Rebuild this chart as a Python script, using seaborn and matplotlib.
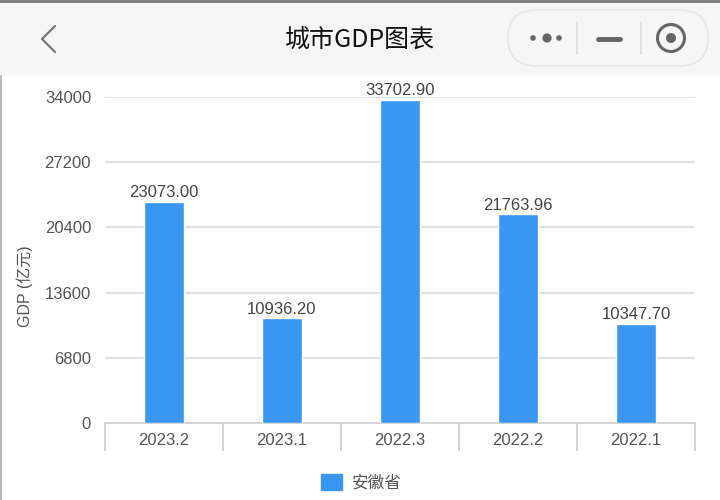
import seaborn as sns
import matplotlib.pyplot as plt
import pandas as pd
from matplotlib.patches import Rectangle, FancyBboxPatch, Circle, Patch


# data
periods = ['2023.2', '2023.1', '2022.3', '2022.2', '2022.1']
gdp_values = [23073.00, 10936.20, 33702.90, 21763.96, 10347.70]
series_name = '安徽省'
y_ticks = [0, 6800, 13600, 20400, 27200, 34000]

bar_color = '#3996f3'
text_color = '#555555'
grid_color = '#e2e2e2'

df = pd.DataFrame({'period': periods, 'gdp': gdp_values})


#----------------------------------------------------------------------------------------------------
sns.set_theme(style='white')
plt.rcParams['font.family'] = ['Liberation Sans', 'Noto Sans CJK SC']

fig = plt.figure(figsize=(7.2, 5), dpi=100)
fig.patch.set_facecolor('white')

ax = fig.add_axes([105/720, 1-423/500, 590/720, 326/500])

sns.barplot(x='period', y='gdp', data=df, color=bar_color, width=0.34,
            saturation=1, ax=ax, zorder=3)

ax.set_ylim(0, 34000)
ax.set_xlim(-0.5, len(periods)-0.5)
ax.set_yticks(y_ticks)
ax.set_yticklabels([str(t) for t in y_ticks])
ax.yaxis.grid(True, color=grid_color, linewidth=1.5, zorder=0)
ax.tick_params(axis='y', length=0, pad=10, labelsize=12, labelcolor=text_color)

# category box under the axis
ax.set_xticks([i-0.5 for i in range(len(periods)+1)])
ax.set_xticklabels([])
ax.set_xticks(range(len(periods)), minor=True)
ax.set_xticklabels(periods, minor=True)
ax.tick_params(axis='x', which='major', length=20, width=1.2, color='#cccccc', direction='out')
ax.tick_params(axis='x', which='minor', length=0, pad=7, labelsize=12, labelcolor=text_color)
ax.xaxis.set_tick_params(bottom=True)

for side in ['top', 'right', 'left']:
    ax.spines[side].set_visible(False)
ax.spines['bottom'].set_color('#cccccc')
ax.spines['bottom'].set_linewidth(1.2)

ax.set_xlabel('')
ax.set_ylabel('GDP (亿元)', color=text_color, fontsize=11.5)
ax.yaxis.set_label_coords(-0.122, 0.42)

for container in ax.containers:
    ax.bar_label(container, labels=[f'{v:.2f}' for v in gdp_values],
                 padding=1, fontsize=12, color='#444444')

ax.legend(handles=[Patch(color=bar_color, label=series_name)],
          loc='center', bbox_to_anchor=(0.435, -0.181), frameon=False,
          fontsize=12, handlelength=1.25, handleheight=1.1,
          labelcolor=text_color, handletextpad=0.6)


# header bar, drawn on a pixel-space overlay
#----------------------------------------------------------------------------------------------------
ov = fig.add_axes([0, 0, 1, 1], zorder=-1)
ov.set_xlim(0, 720)
ov.set_ylim(500, 0)
ov.axis('off')
ov.patch.set_alpha(0)

ov.add_patch(Rectangle((0, 0), 720, 76, facecolor='#f6f6f6', edgecolor='none'))
ov.plot([0, 720], [1, 1], color='#777777', linewidth=2)
ov.plot([1, 1], [76, 500], color='#bbbbbb', linewidth=1.5)
ov.text(360, 40, '城市GDP图表', ha='center', va='center', fontsize=18, color='#111111',
        family=['Noto Sans CJK SC', 'DejaVu Sans'])

ov.plot([55, 42, 55], [26, 39, 52], color='#777777', linewidth=1.6)

ov.add_patch(FancyBboxPatch((508, 10), 200, 56, boxstyle='round,pad=0,rounding_size=28',
                            facecolor='#f6f6f6', edgecolor='#e6e6e6', linewidth=1.2))
for cx, r in [(533, 2.8), (547, 4.6), (559, 2.8)]:
    ov.add_patch(Circle((cx, 38), r, facecolor='#666666', edgecolor='none'))
for dx in [577, 641]:
    ov.plot([dx, dx], [22, 54], color='#dddddd', linewidth=1.2)
ov.plot([598, 620], [39, 39], color='#666666', linewidth=3.5, solid_capstyle='round')
ov.add_patch(Circle((671, 38), 13.5, facecolor='none', edgecolor='#666666', linewidth=2.2))
ov.add_patch(Circle((671, 38), 5, facecolor='#666666', edgecolor='none'))

plt.savefig('out.png', dpi=100)
plt.clf()
